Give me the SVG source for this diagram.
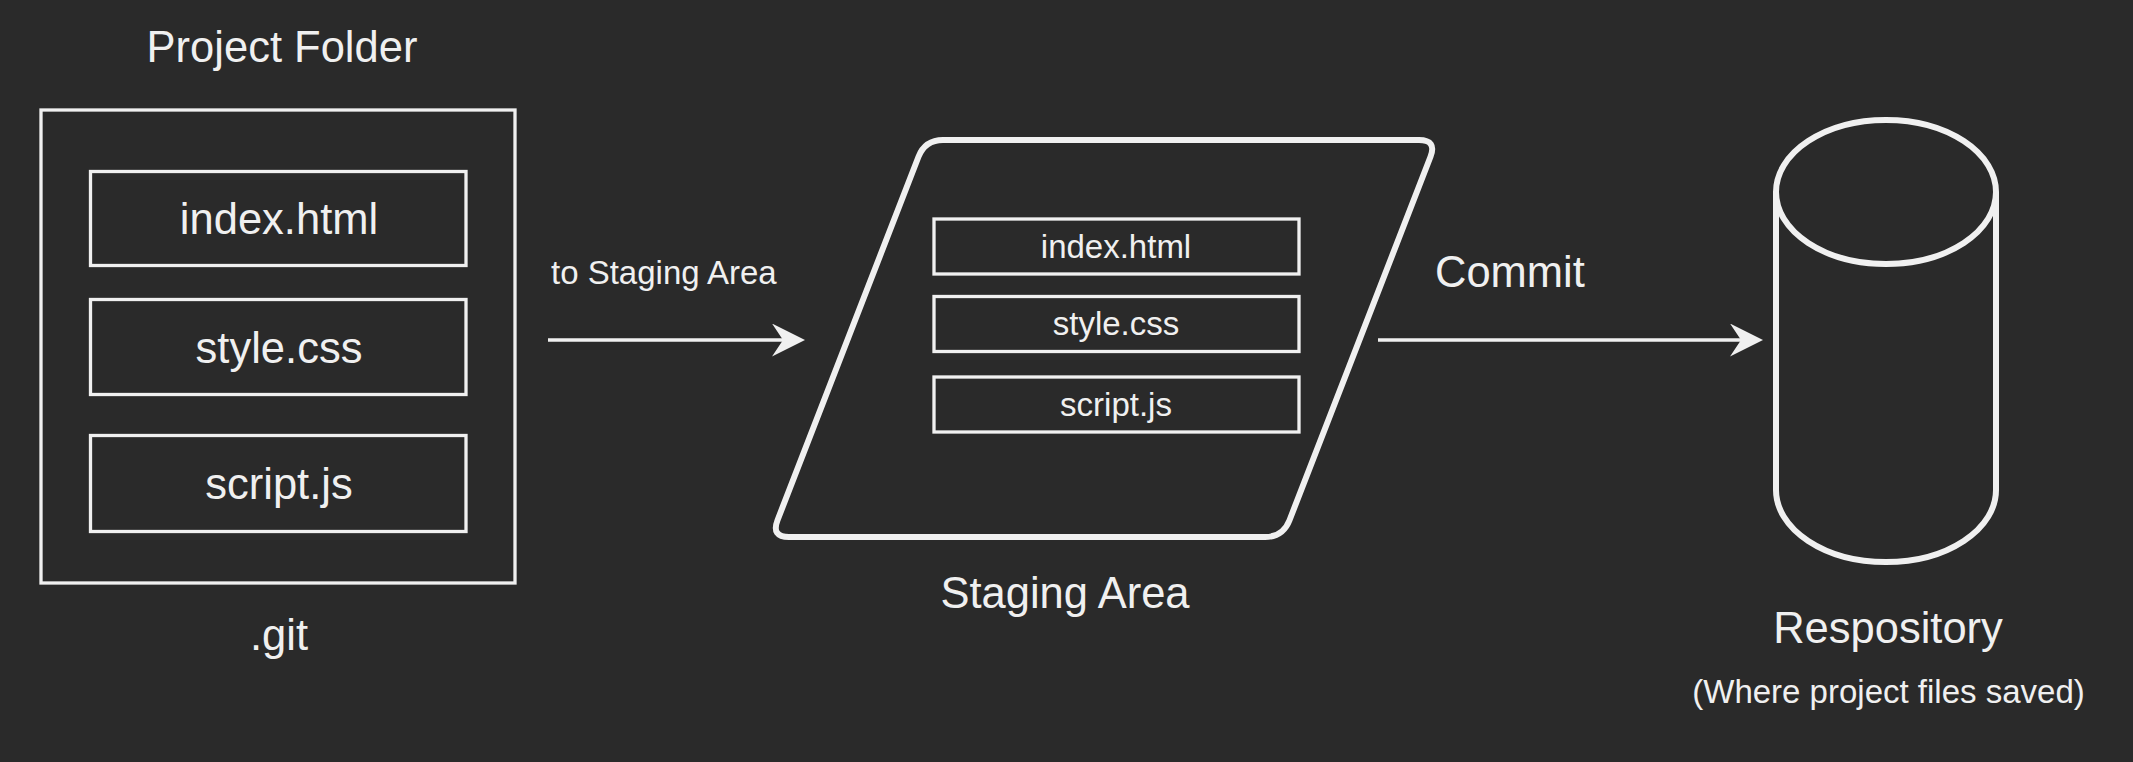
<svg xmlns="http://www.w3.org/2000/svg" width="2133" height="762" viewBox="0 0 2133 762">
<style>
.bg{fill:#2a2a2a}
.box{fill:none;stroke:#f0f0f0;stroke-width:3.3}
.thick{fill:none;stroke:#f0f0f0;stroke-width:6;stroke-linejoin:round}
.t{font-family:"Liberation Sans",Arial,Helvetica,sans-serif;fill:#f0f0f0}
.big{font-size:43.5px}
.sm{font-size:33px}
.mid{text-anchor:middle}
.edge{fill:none;stroke:#f0f0f0;stroke-width:3.5}
</style>
<defs>
<marker id="arrow" viewBox="0 0 33 33" refX="11" refY="16.5" markerWidth="33" markerHeight="33" markerUnits="userSpaceOnUse" orient="auto">
<path d="M0,0 L33,16.5 L0,33 L11,16.5 Z" fill="#f0f0f0"/>
</marker>
</defs>
<rect class="bg" x="0" y="0" width="2133" height="762"/>

<g id="project-folder">
<text class="t big mid" x="282" y="62">Project Folder</text>
<rect class="box" x="41" y="110" width="474" height="473"/>
<text class="t big mid" x="279" y="650">.git</text>
</g>
<g id="pf-index">
<rect class="box" x="90.5" y="171.5" width="375.5" height="94"/>
<text class="t big mid" x="279" y="233.5">index.html</text>
</g>
<g id="pf-style">
<rect class="box" x="90.5" y="299.5" width="375.5" height="95"/>
<text class="t big mid" x="279" y="363">style.css</text>
</g>
<g id="pf-script">
<rect class="box" x="90.5" y="435.5" width="375.5" height="96"/>
<text class="t big mid" x="279" y="498.5">script.js</text>
</g>

<g id="staging-area">
<path class="thick" d="M943,140 L1419,140 Q1437,140 1430.49,156.78 L1289.51,520.22 Q1283,537 1265,537 L789,537 Q771,537 777.51,520.22 L918.49,156.78 Q925,140 943,140 Z"/>
<text class="t big mid" x="1065" y="608">Staging Area</text>
</g>
<g id="sa-index">
<rect class="box" x="934" y="219" width="365" height="55"/>
<text class="t sm mid" x="1116" y="257.5">index.html</text>
</g>
<g id="sa-style">
<rect class="box" x="934" y="296.5" width="365" height="55"/>
<text class="t sm mid" x="1116" y="334.5">style.css</text>
</g>
<g id="sa-script">
<rect class="box" x="934" y="377" width="365" height="55"/>
<text class="t sm mid" x="1116" y="415.5">script.js</text>
</g>

<g id="repository">
<path class="thick" d="M1776,192 A110,72 0 0 1 1996,192 L1996,490 A110,72 0 0 1 1776,490 Z M1776,192 A110,72 0 0 0 1996,192"/>
<text class="t big mid" x="1888" y="643">Respository</text>
<text class="t sm mid" x="1888.5" y="703">(Where project files saved)</text>
</g>

<g id="connectors">
<line class="edge" x1="548" y1="340" x2="783" y2="340" marker-end="url(#arrow)"/>
<text class="t sm" x="551" y="284">to Staging Area</text>
<line class="edge" x1="1378" y1="340" x2="1741" y2="340" marker-end="url(#arrow)"/>
<text class="t big" x="1435" y="287">Commit</text>
</g>
</svg>
